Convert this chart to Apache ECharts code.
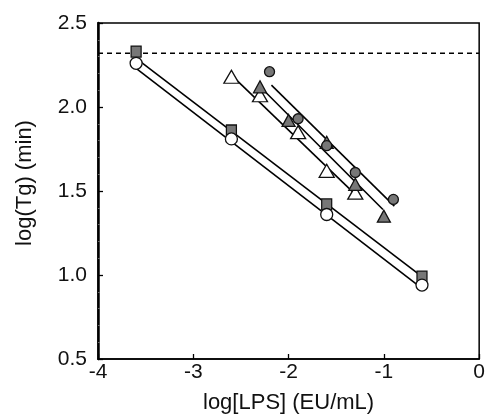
<!DOCTYPE html>
<html>
<head>
<meta charset="utf-8">
<script src="https://cdn.jsdelivr.net/npm/echarts@6/dist/echarts.min.js"></script>
<style>
  html, body { margin: 0; padding: 0; background: #fff; }
  #chart { width: 488px; height: 419px; }
</style>
</head>
<body>
<div id="chart"></div>
<script>
// measured points, log[LPS] vs log(Tg)
var lpsSquare = [-3.6, -2.6, -1.6, -0.6];
var tgSquare = [2.33, 1.86, 1.42, 0.99];
var lpsCircle = [-3.6, -2.6, -1.6, -0.6];
var tgCircle = [2.26, 1.81, 1.36, 0.94];
var lpsOpenTri = [-2.6, -2.3, -1.9, -1.6, -1.3];
var tgOpenTri = [2.18, 2.07, 1.85, 1.62, 1.49];
var lpsFilledTri = [-2.3, -2.0, -1.6, -1.3, -1.0];
var tgFilledTri = [2.12, 1.92, 1.79, 1.54, 1.35];
var lpsFilledCircle = [-2.2, -1.9, -1.6, -1.3, -0.9];
var tgFilledCircle = [2.21, 1.93, 1.77, 1.61, 1.45];

// fitted lines (end points)
var fitSquareX = [-3.6, -0.6], fitSquareY = [2.29, 0.99];
var fitCircleX = [-3.6, -0.6], fitCircleY = [2.23, 0.92];
var fitOpenTriX = [-2.6, -1.3], fitOpenTriY = [2.19, 1.48];
var fitFilledTriX = [-2.28, -1.01], fitFilledTriY = [2.11, 1.39];
var fitFilledCircleX = [-2.18, -0.89], fitFilledCircleY = [2.13, 1.41];

var thresholdY = 2.32;
var xRange = [-4, 0];

var xTicks = [-4, -3, -2, -1, 0];
var yTicks = [0.5, 1.0, 1.5, 2.0, 2.5];

function pairs(xs, ys) {
  return xs.map(function (x, i) { return [x, ys[i]]; });
}

var gray = '#777';
var font = 'Liberation Sans, Arial, sans-serif';

function fitLine(xs, ys) {
  return {
    type: 'line', data: pairs(xs, ys), symbol: 'none', z: 2,
    lineStyle: { color: '#000', width: 1.6 }, silent: true
  };
}

function marks(xs, ys, symbol, size, fill, z) {
  return {
    type: 'scatter', data: pairs(xs, ys), symbol: symbol, symbolSize: size, z: z,
    itemStyle: { color: fill, borderColor: '#111', borderWidth: 1.3, opacity: 1 }
  };
}

var chart = echarts.init(document.getElementById('chart'));
var option = {
  animation: false,
  grid: { left: 98, right: 6, top: 23, bottom: 59, show: true, borderColor: '#000', borderWidth: 1.5 },
  xAxis: {
    type: 'value', min: xTicks[0], max: xTicks[xTicks.length - 1], interval: 1,
    name: 'log[LPS] (EU/mL)', nameLocation: 'middle', nameGap: 33,
    nameTextStyle: { fontFamily: font, fontSize: 22, color: '#111' },
    axisLine: { onZero: false, lineStyle: { color: '#000', width: 1.5 } },
    axisTick: { inside: true, length: 5, lineStyle: { color: '#000', width: 1.3 } },
    axisLabel: { fontFamily: font, fontSize: 21, color: '#111', margin: 3 },
    splitLine: { show: false }
  },
  yAxis: {
    type: 'value', min: yTicks[0], max: yTicks[yTicks.length - 1], interval: 0.5,
    name: 'log(Tg) (min)', nameLocation: 'middle', nameGap: 62,
    nameTextStyle: { fontFamily: font, fontSize: 22, color: '#111', padding: [0, 0, 0, 16] },
    axisLine: { onZero: false, lineStyle: { color: '#000', width: 2.5 } },
    axisTick: { inside: true, length: 5, lineStyle: { color: '#000', width: 1.3 } },
    minorTick: { show: true, splitNumber: 5, length: 2, lineStyle: { color: '#666', width: 1 } },
    axisLabel: {
      fontFamily: font, fontSize: 21, color: '#111', margin: 11,
      formatter: function (v) { return v.toFixed(1); }
    },
    splitLine: { show: false }
  },
  series: [
    {
      type: 'line', data: pairs(xRange, [thresholdY, thresholdY]), symbol: 'none', z: 1,
      lineStyle: { color: '#000', width: 1.5, type: [5, 4] }, silent: true
    },
    fitLine(fitSquareX, fitSquareY),
    fitLine(fitCircleX, fitCircleY),
    fitLine(fitOpenTriX, fitOpenTriY),
    fitLine(fitFilledTriX, fitFilledTriY),
    fitLine(fitFilledCircleX, fitFilledCircleY),
    marks(lpsSquare, tgSquare, 'rect', [10, 11], gray, 5),
    marks(lpsCircle, tgCircle, 'circle', 12, '#fff', 6),
    marks(lpsOpenTri, tgOpenTri, 'triangle', [15, 13], '#fff', 5),
    marks(lpsFilledTri, tgFilledTri, 'triangle', [13, 12], gray, 6),
    marks(lpsFilledCircle, tgFilledCircle, 'circle', 10, gray, 7)
  ]
};
chart.setOption(option);
</script>
</body>
</html>
